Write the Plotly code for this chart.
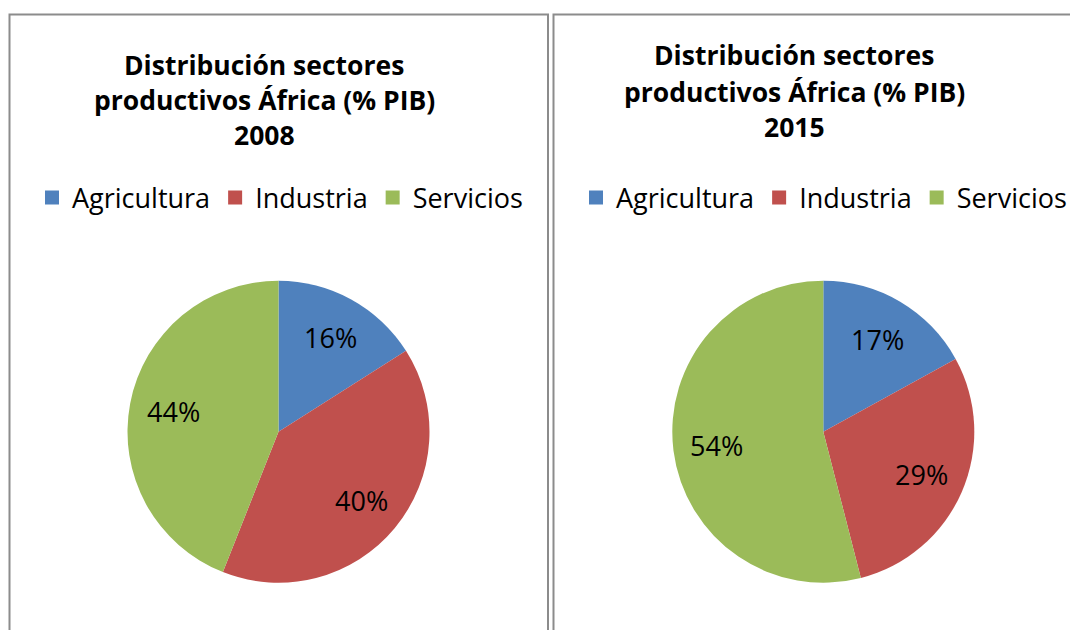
import math
import plotly.graph_objects as go

# Reference pixel space is 1078x630; the page body has an 8px margin.
W, H = 1078, 630
OFF = 8
FW, FH = W - OFF, H - OFF

categories = ["Agricultura", "Industria", "Servicios"]
values_2008 = [16, 40, 44]
values_2015 = [17, 29, 54]
colors = ["#4F81BD", "#C0504D", "#9BBB59"]
title_2008 = ["Distribución sectores", "productivos África (% PIB)", "2008"]
title_2015 = ["Distribución sectores", "productivos África (% PIB)", "2015"]

FONT = "Open Sans"


def px(x):
    return (x - OFF) / FW


def py(y):
    return 1 - (y - OFF) / FH


fig = go.Figure()
R = 151
CY = 431.7
LABEL_FRAC = 0.71
annotations = []
panels = [
    (values_2008, 278.5, "legend", title_2008, 264, [64.5, 100, 135]),
    (values_2015, 823.3, "legend2", title_2015, 794, [55.5, 92, 127]),
]
for vals, cx, leg, title_lines, tx, ty in panels:
    fig.add_trace(go.Pie(
        labels=categories, values=vals, sort=False, direction="clockwise", rotation=0,
        marker=dict(colors=colors, line=dict(width=0)),
        textinfo="none", showlegend=False,
        domain=dict(x=[px(cx - R), px(cx + R)], y=[py(CY + R), py(CY - R)]),
        hoverinfo="label+percent",
    ))
    # legend entries for this panel (one per category)
    for cat, col in zip(categories, colors):
        fig.add_trace(go.Scatter(
            x=[None], y=[None], mode="markers", name=cat, legend=leg, showlegend=True,
            marker=dict(symbol="square", size=14, color=col), hoverinfo="skip"))
    # percentage labels placed along each slice's mid-angle (derived from the values)
    total = sum(vals)
    cum = 0
    for v in vals:
        mid = (cum + v / 2) / total * 2 * math.pi
        cum += v
        lx = cx + LABEL_FRAC * R * math.sin(mid)
        ly = CY - LABEL_FRAC * R * math.cos(mid)
        annotations.append(dict(
            text=f"{round(100 * v / total)}%", x=px(lx), y=py(ly), xref="paper", yref="paper",
            showarrow=False, xanchor="center", yanchor="middle",
            font=dict(family=FONT, size=27, color="black")))
    for line, yy in zip(title_lines, ty):
        annotations.append(dict(
            text=f"<b>{line}</b>", x=px(tx), y=py(yy), xref="paper", yref="paper",
            showarrow=False, xanchor="center", yanchor="middle",
            font=dict(family=FONT, size=26.5, color="black")))

legend_style = dict(orientation="h", font=dict(family=FONT, size=27, color="black"),
                    xanchor="center", yanchor="middle", bgcolor="rgba(0,0,0,0)",
                    itemwidth=30, traceorder="normal")

fig.update_layout(
    width=FW, height=FH, margin=dict(l=0, r=0, t=0, b=0),
    paper_bgcolor="white", plot_bgcolor="white",
    showlegend=True,
    xaxis=dict(visible=False), yaxis=dict(visible=False),
    legend=dict(x=px(280), y=py(198), **legend_style),
    legend2=dict(x=px(824), y=py(198), **legend_style),
    shapes=[
        dict(type="rect", xref="paper", yref="paper", x0=px(9.5), x1=px(548), y0=-0.05, y1=py(14.5),
             line=dict(color="#8C8C8C", width=2)),
        dict(type="rect", xref="paper", yref="paper", x0=px(553.5), x1=1.05, y0=-0.05, y1=py(14.5),
             line=dict(color="#8C8C8C", width=2)),
    ],
    annotations=annotations,
)

fig.write_html("out.html")
